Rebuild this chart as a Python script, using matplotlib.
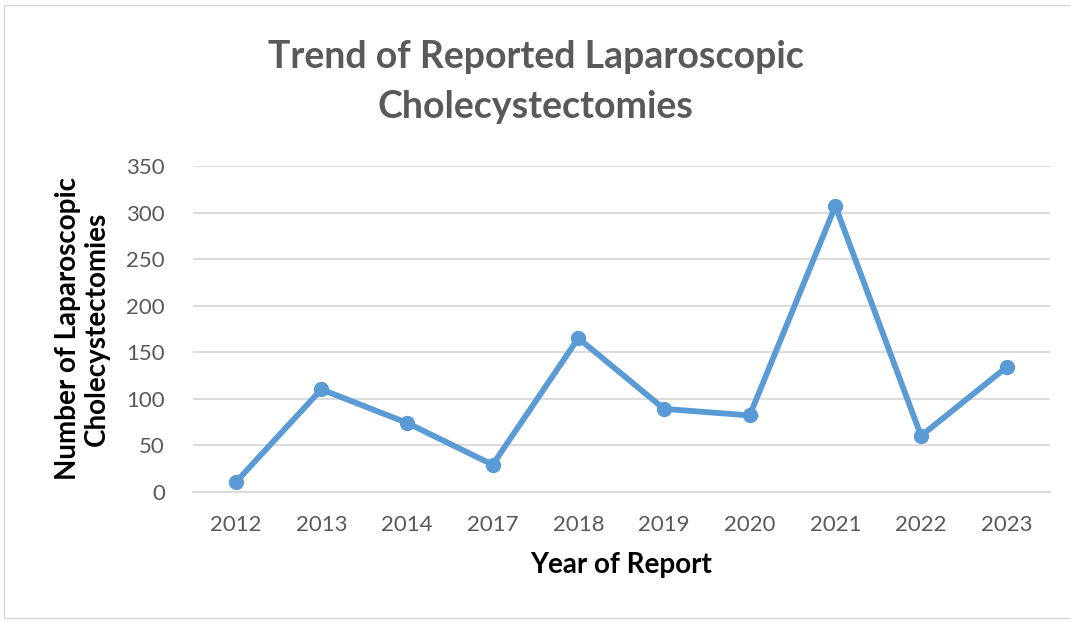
import matplotlib.pyplot as plt
from matplotlib.patches import Rectangle

years = ["2012", "2013", "2014", "2017", "2018", "2019", "2020", "2021", "2022", "2023"]
cases = [10, 110, 74, 29, 165, 89, 82, 307, 60, 134]
y_ticks = [0, 50, 100, 150, 200, 250, 300, 350]

plt.rcParams["font.family"] = ["Lato", "DejaVu Sans"]

fig = plt.figure(figsize=(10.71, 6.22), dpi=100)
ax = fig.add_axes([0.180, 0.2095, 0.800, 0.5235])

x = list(range(len(years)))
ax.plot(x, cases, color="#5B9BD5", linewidth=4.2, marker="o", markersize=10,
        solid_capstyle="round", zorder=3)

ax.set_xlim(-0.5, len(years) - 0.5)
ax.set_ylim(0, 350)
ax.set_yticks(y_ticks)
ax.set_xticks(x)
ax.set_xticklabels(years)
ax.yaxis.grid(True, color="#D9D9D9", linewidth=1.3)
ax.set_axisbelow(True)
for s in ["top", "right", "left"]:
    ax.spines[s].set_visible(False)
ax.spines["bottom"].set_color("#D9D9D9")
ax.spines["bottom"].set_linewidth(1.3)
ax.tick_params(axis="both", length=0, labelsize=16, colors="#595959")
ax.tick_params(axis="x", pad=17)
ax.tick_params(axis="y", pad=20)

ax.set_xlabel("Year of Report", fontsize=20, fontweight="bold", labelpad=12)
ax.set_ylabel("Number of Laparoscopic\nCholecystectomies", fontsize=20,
              fontweight="bold", labelpad=12, linespacing=1.15)

fig.text(0.5, 0.868, "Trend of Reported Laparoscopic\nCholecystectomies",
         ha="center", va="center", fontsize=27, fontweight="bold",
         color="#595959", linespacing=1.55)

fig.patches.append(Rectangle((0.004, 0.006), 1.2, 0.986, transform=fig.transFigure,
                             fill=False, edgecolor="#D9D9D9", linewidth=1))

fig.savefig("out.png", dpi=100)
